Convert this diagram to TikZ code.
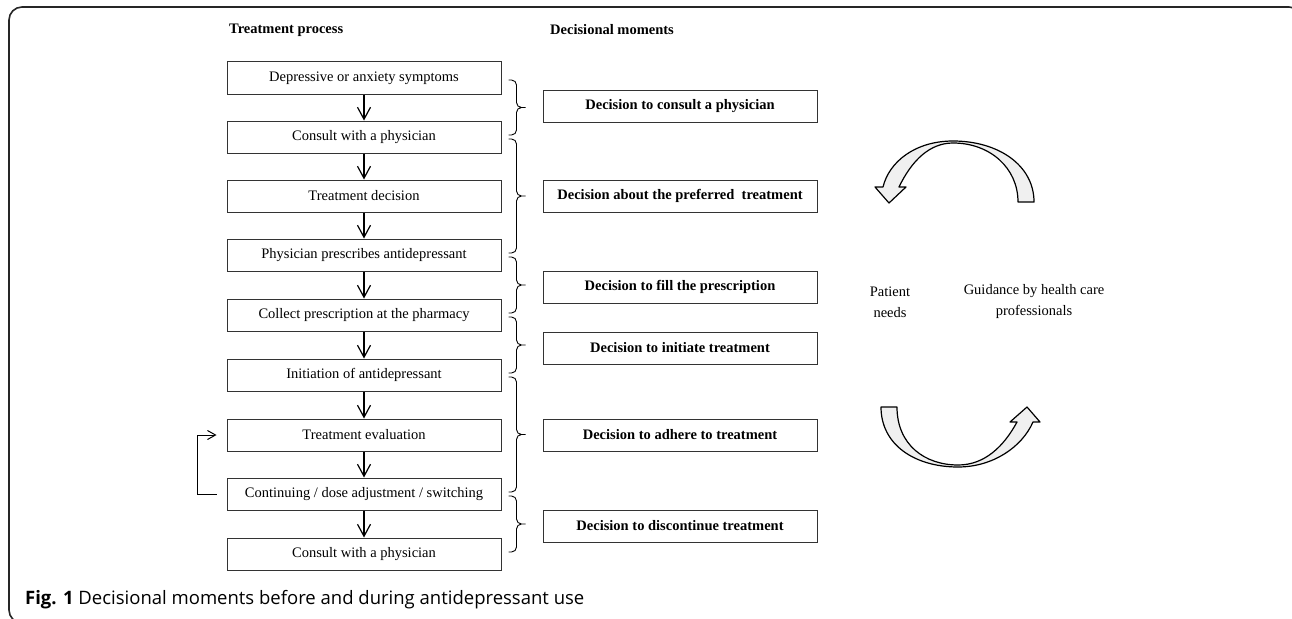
\documentclass[tikz,border=0pt]{standalone}
\usepackage{fontspec}
\setmainfont{Liberation Serif}
\newfontfamily\capfont{Open Sans}
\usetikzlibrary{arrows.meta,calc}

\tikzset{
  dmfig/.style={x=1pt,y=-1pt,font=\fontsize{14.5}{21}\selectfont},
  head/.style={anchor=west,inner sep=0pt,font=\fontsize{14.5}{21}\selectfont\bfseries},
  procbox/.style={draw=black!80,line width=1pt,minimum width=274pt,minimum height=32pt,inner sep=0pt},
  decbox/.style={procbox,font=\fontsize{14.5}{21}\selectfont\bfseries},
  flow/.style={line width=1.2pt,-{Straight Barb[length=12pt,width=13pt,line width=1.2pt]}},
  bracket/.style={line width=0.9pt,rounded corners=5pt},
  loopline/.style={line width=1pt,-{Straight Barb[length=8pt,width=9pt]}},
  bentarrow/.style={draw=black,line width=1.2pt,fill=black!6,line join=round}
}

% brace between two process steps, tip pointing right
\newcommand{\decbrace}[2]{%
  \coordinate (bt) at ([xshift=7pt,yshift=-2pt]#1.east);
  \coordinate (bb) at ([xshift=7pt,yshift=2pt]#2.east);
  \coordinate (bm) at ($(bt)!.5!(bb)+(8,0)$);
  \draw[bracket] (bt) -| (bm) -- ++(9,0)
    ([xshift=9pt]bm) -| (bm |- bb) -- (bb);
}

\begin{document}
\begin{tikzpicture}[dmfig]
  \useasboundingbox (0,0) rectangle (1292,618);
  \draw[line width=1.6pt,black!85,rounded corners=13pt] (9,7) rectangle (1302,623);

  \node[head] (hproc) at (229,30) {Treatment process};
  \node[head] (hdec) at (550,30) {Decisional moments};

  % treatment process
  \node[procbox] (p1) at (364,78)  {Depressive or anxiety symptoms};
  \node[procbox] (p2) at (364,137) {Consult with a physician};
  \node[procbox] (p3) at (364,196) {Treatment decision};
  \node[procbox] (p4) at (364,255) {Physician prescribes antidepressant};
  \node[procbox] (p5) at (364,315) {Collect prescription at the pharmacy};
  \node[procbox] (p6) at (364,375) {Initiation of antidepressant};
  \node[procbox] (p7) at (364,435) {Treatment evaluation};
  \node[procbox] (p8) at (364,494) {Continuing / dose adjustment / switching};
  \node[procbox] (p9) at (364,554) {Consult with a physician};
  \foreach \a/\b in {1/2,2/3,3/4,4/5,5/6,6/7,7/8,8/9}
    \draw[flow] (p\a) -- (p\b);
  \draw[loopline,shorten <=10pt,shorten >=10pt] (p8.west) -- ++(-29,0) |- (p7.west);

  % decisional moments
  \node[decbox] (d1) at (680,106) {Decision to consult a physician};
  \node[decbox] (d2) at (680,196) {Decision about the preferred\ \ treatment};
  \node[decbox] (d3) at (680,287) {Decision to fill the prescription};
  \node[decbox] (d4) at (680,348) {Decision to initiate treatment};
  \node[decbox] (d5) at (680,435) {Decision to adhere to treatment};
  \node[decbox] (d6) at (680,526) {Decision to discontinue treatment};
  \foreach \a/\b in {1/2,2/4,4/5,5/6,6/8,8/9}
    {\decbrace{p\a}{p\b}}

  % interaction cycle
  \draw[bentarrow] (1034,202) .. controls (1034,165) and (998,141) .. (953,141)
    .. controls (915,141) and (889,162) .. (883,187) -- (875,187) -- (889,203) -- (906,187) -- (899,187)
    .. controls (912,160) and (930,143) .. (953,143)
    .. controls (990,143) and (1018,168) .. (1018,202) -- cycle;
  \draw[bentarrow] (881,407) .. controls (881,445) and (915,467) .. (958,467)
    .. controls (993,467) and (1022,447) .. (1033,422) -- (1040,422) -- (1027,407) -- (1010,422) -- (1017,422)
    .. controls (1004,446) and (985,465) .. (958,465)
    .. controls (925,465) and (897,445) .. (897,407) -- cycle;
  \node[align=center] (needs) at (890,302) {Patient\\needs};
  \node[align=center] (guide) at (1034,302) {Guidance by health care\\professionals};

  \node[anchor=base west,inner sep=0pt,font=\capfont\fontsize{18.5}{22}\selectfont] (cap) at (25,604)
    {\textbf{Fig. 1} Decisional moments before and during antidepressant use};
\end{tikzpicture}
\end{document}
